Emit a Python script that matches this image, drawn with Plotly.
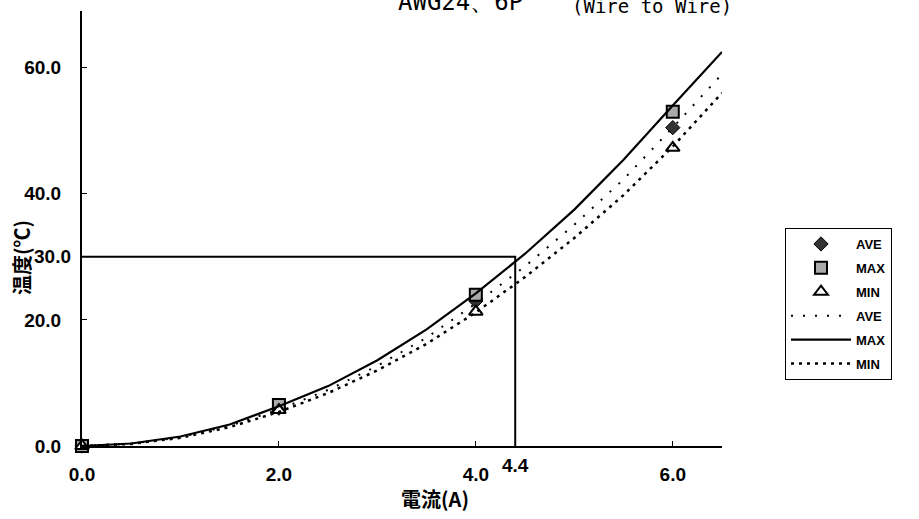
import plotly.graph_objects as go

# measured points
pt_x = [0.0, 2.0, 4.0, 6.0]
ave_pts = [0.0, 6.0, 23.0, 50.5]
max_pts = [0.0, 6.5, 24.0, 53.0]
min_pts = [0.0, 5.7, 21.3, 47.3]

# fitted curves
curve_x = [0.0, 0.5, 1.0, 1.5, 2.0, 2.5, 3.0, 3.5, 4.0, 4.5, 5.0, 5.5, 6.0, 6.5]
ave_curve = [0.0, 0.35, 1.4, 3.2, 5.8, 8.9, 12.7, 17.2, 22.6, 28.5, 35.1, 42.3, 50.5, 59.0]
max_curve = [0.0, 0.4, 1.5, 3.4, 6.3, 9.5, 13.6, 18.5, 24.2, 30.5, 37.5, 45.4, 54.0, 62.5]
min_curve = [0.0, 0.33, 1.3, 3.0, 5.4, 8.4, 12.0, 16.2, 21.2, 26.8, 33.0, 39.8, 47.5, 56.0]

ref_x = 4.4
ref_y = 30.0

x_ticks = [0, 2, 4, 6]
x_ticklabels = ["0.0", "2.0", "4.0", "6.0"]
y_ticks = [0, 20, 40, 60]
y_ticklabels = ["0.0", "20.0", "40.0", "60.0"]

fig = go.Figure()

# reference lines
fig.add_trace(go.Scatter(x=[0, ref_x, ref_x], y=[ref_y, ref_y, 0], mode="lines",
                         line=dict(color="black", width=2), showlegend=False,
                         hoverinfo="skip", cliponaxis=False))

# markers
fig.add_trace(go.Scatter(x=pt_x, y=ave_pts, mode="markers", name="AVE", legendgroup="a",
                         marker=dict(symbol="diamond", size=11, color="#333333",
                                     line=dict(color="black", width=1)),
                         cliponaxis=False))
fig.add_trace(go.Scatter(x=pt_x, y=max_pts, mode="markers", name="MAX", legendgroup="b",
                         marker=dict(symbol="square", size=12, color="#aaaaaa",
                                     line=dict(color="black", width=2)),
                         cliponaxis=False))
fig.add_trace(go.Scatter(x=pt_x, y=min_pts, mode="markers", name="MIN", legendgroup="c",
                         marker=dict(symbol="triangle-up", size=12, color="white",
                                     line=dict(color="black", width=2)),
                         cliponaxis=False))
# curves
fig.add_trace(go.Scatter(x=curve_x, y=ave_curve, mode="lines", name="AVE", legendgroup="d",
                         line=dict(color="black", width=2, dash="2px,10px"),
                         cliponaxis=False))
fig.add_trace(go.Scatter(x=curve_x, y=max_curve, mode="lines", name="MAX", legendgroup="e",
                         line=dict(color="black", width=2.2), cliponaxis=False))
fig.add_trace(go.Scatter(x=curve_x, y=min_curve, mode="lines", name="MIN", legendgroup="f",
                         line=dict(color="black", width=2.5, dash="3px,5px"),
                         cliponaxis=False))

tickfont = dict(family="Liberation Sans, Arial", size=19, color="black", weight="bold")
cjkfont = dict(family="Noto Sans CJK JP", size=20, color="black", weight="bold")

fig.update_layout(
    width=919, height=519,
    margin=dict(l=82, r=197, t=11, b=73),
    paper_bgcolor="white", plot_bgcolor="white",
    showlegend=True,
    legend=dict(x=785/919, y=1 - 228/519, xref="container", yref="container",
                xanchor="left", yanchor="top",
                bordercolor="black", borderwidth=1, bgcolor="white",
                font=dict(family="Liberation Sans, Arial", size=13, color="black", weight="bold"),
                itemwidth=60, tracegroupgap=4),
    xaxis=dict(range=[0, 6.5], showline=True, linecolor="black", linewidth=2,
               showgrid=False, zeroline=False, ticks="inside", ticklen=5,
               tickcolor="black", tickvals=x_ticks, ticktext=x_ticklabels,
               tickfont=tickfont, ticklabelstandoff=10),
    yaxis=dict(range=[0, 69], showline=True, linecolor="black", linewidth=2,
               showgrid=False, zeroline=False, ticks="inside", ticklen=5,
               tickcolor="black", tickvals=y_ticks, ticktext=y_ticklabels,
               tickfont=tickfont, ticklabelstandoff=15),
    annotations=[
        dict(text="4.4", x=ref_x, y=0, xref="x", yref="y", yshift=-19,
             showarrow=False, font=tickfont),
        dict(text="30.0", x=(73 - 82) / 640, y=ref_y, xref="paper", yref="y",
             xanchor="right", yanchor="middle", showarrow=False, font=tickfont),
        dict(text="電流(A)", x=(435 - 82) / 640, y=(446 - 498) / 435, xref="paper", yref="paper",
             xanchor="center", yanchor="middle", showarrow=False, font=cjkfont),
        dict(text="温度(℃)", x=(21 - 82) / 640, y=(446 - 258) / 435, xref="paper", yref="paper",
             textangle=-90, xanchor="center", yanchor="middle", showarrow=False, font=cjkfont),
        dict(text="AWG24、6P", x=(396 - 82) / 640, y=(446 - 2.5) / 435,
             xref="paper", yref="paper",
             xanchor="left", yanchor="middle", showarrow=False,
             font=dict(family="DejaVu Sans Mono", size=24, color="black")),
        dict(text="(Wire to Wire)", x=(570 - 82) / 640, y=(446 - 6) / 435,
             xref="paper", yref="paper",
             xanchor="left", yanchor="middle", showarrow=False,
             font=dict(family="DejaVu Sans Mono", size=19, color="black")),
    ],
)

fig.write_html("out.html", post_script="document.body.style.margin='0';",
               config={"displayModeBar": False})
